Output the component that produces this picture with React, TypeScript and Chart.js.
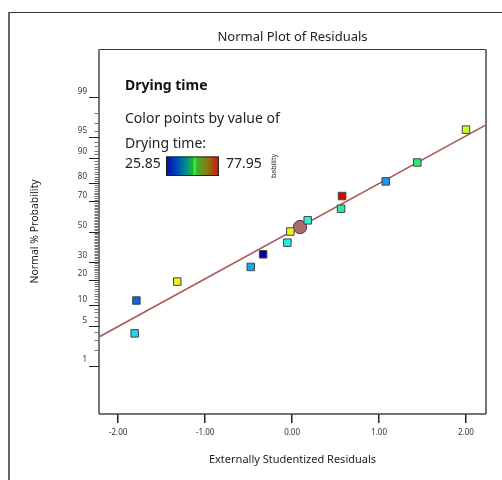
import React, { useEffect, useRef } from "react";
import { Chart, registerables } from "chart.js";

Chart.register(...registerables);

// ---- data ----
const residuals = [-1.81, -1.79, -1.32, -0.475, -0.333, -0.054, -0.02, 0.18, 0.563, 0.575, 1.077, 1.44, 2.0];
const normalProbability = [3.85, 11.54, 19.23, 26.92, 34.62, 42.31, 50.0, 57.69, 65.38, 73.08, 80.77, 88.46, 96.15];
const pointColors = [
  "#22d4ee", "#0a66d8", "#eeee22", "#14a8f0", "#0000a8", "#22f0dc", "#f0f020",
  "#2af4d8", "#2aee9a", "#dd0000", "#1e96ee", "#30e870", "#c4fa2a",
];
const markedResidual = [0.092];
const markedProbability = [53.1];
const fitResidual = [-2.22, 2.23];
const fitProbability = [3.35, 96.78];
const xTickValues = [-2, -1, 0, 1, 2];
const yLabeledPercents = [1, 5, 10, 20, 30, 50, 70, 80, 90, 95, 99];
const yMinorPercents = Array.from({ length: 99 }, (_, i) => i + 1);
const colorRangeLabels = ["25.85", "77.95"];

const FONT = "'Noto Sans', 'Open Sans', sans-serif";

// inverse standard normal CDF (probability axis transform)
function probit(p: number): number {
  const a = [-3.969683028665376e1, 2.209460984245205e2, -2.759285104469687e2, 1.38357751867269e2, -3.066479806614716e1, 2.506628277459239];
  const b = [-5.447609879822406e1, 1.615858368580409e2, -1.556989798598866e2, 6.680131188771972e1, -1.328068155288572e1];
  const c = [-7.784894002430293e-3, -3.223964580411365e-1, -2.400758277161838, -2.549732539343734, 4.374664141464968, 2.938163982698783];
  const d = [7.784695709041462e-3, 3.224671290700398e-1, 2.445134137142996, 3.754408661907416];
  const pl = 0.02425;
  const ph = 1 - pl;
  let q: number, r: number;
  if (p < pl) {
    q = Math.sqrt(-2 * Math.log(p));
    return (((((c[0] * q + c[1]) * q + c[2]) * q + c[3]) * q + c[4]) * q + c[5]) / ((((d[0] * q + d[1]) * q + d[2]) * q + d[3]) * q + 1);
  }
  if (p <= ph) {
    q = p - 0.5;
    r = q * q;
    return ((((((a[0] * r + a[1]) * r + a[2]) * r + a[3]) * r + a[4]) * r + a[5]) * q) / (((((b[0] * r + b[1]) * r + b[2]) * r + b[3]) * r + b[4]) * r + 1);
  }
  q = Math.sqrt(-2 * Math.log(1 - p));
  return -(((((c[0] * q + c[1]) * q + c[2]) * q + c[3]) * q + c[4]) * q + c[5]) / ((((d[0] * q + d[1]) * q + d[2]) * q + d[3]) * q + 1);
}

const Z_LIMIT = 3.168;

const decorPlugin = {
  id: "decor",
  beforeDraw(chart: any) {
    const ctx = chart.ctx;
    ctx.save();
    // outer frame
    ctx.strokeStyle = "#333";
    ctx.lineWidth = 1;
    ctx.beginPath();
    ctx.moveTo(8, 12.5);
    ctx.lineTo(502, 12.5);
    ctx.stroke();
    ctx.strokeStyle = "#666";
    ctx.lineWidth = 2;
    ctx.beginPath();
    ctx.moveTo(9, 12);
    ctx.lineTo(9, 480);
    ctx.stroke();
    ctx.restore();
  },
  afterDraw(chart: any) {
    const ctx = chart.ctx;
    const { left, right, top, bottom } = chart.chartArea;
    const yScale = chart.scales.y;
    ctx.save();
    // plot frame
    ctx.strokeStyle = "#333";
    ctx.lineWidth = 1;
    ctx.beginPath();
    ctx.moveTo(left, top + 0.5);
    ctx.lineTo(right, top + 0.5);
    ctx.stroke();
    ctx.strokeStyle = "#777";
    ctx.lineWidth = 2;
    ctx.beginPath();
    ctx.moveTo(right, top);
    ctx.lineTo(right, bottom);
    ctx.stroke();
    ctx.beginPath();
    ctx.moveTo(left, top);
    ctx.lineTo(left, bottom);
    ctx.stroke();
    ctx.strokeStyle = "#444";
    ctx.lineWidth = 1.5;
    ctx.beginPath();
    ctx.moveTo(left, bottom);
    ctx.lineTo(right, bottom);
    ctx.stroke();

    // y tick marks: long at labelled percents, short elsewhere
    yScale.ticks.forEach((t: any, i: number) => {
      const p = yMinorPercents[i];
      const major = yLabeledPercents.includes(p);
      const py = Math.round(yScale.getPixelForValue(t.value)) + 0.5;
      ctx.strokeStyle = major ? "#222" : "#777";
      ctx.lineWidth = 1;
      ctx.beginPath();
      ctx.moveTo(left - (major ? 10 : 4.5), py);
      ctx.lineTo(left, py);
      ctx.stroke();
    });

    // colour legend
    ctx.fillStyle = "#111";
    ctx.textBaseline = "alphabetic";
    ctx.textAlign = "left";
    ctx.font = `bold 14px ${FONT}`;
    ctx.fillText("Drying time", 125, 90);
    ctx.font = `14px ${FONT}`;
    ctx.fillStyle = "#222";
    ctx.fillText("Color points by value of", 125, 123);
    ctx.fillText("Drying time:", 125, 148);
    ctx.fillText(colorRangeLabels[0], 125, 168);
    ctx.fillText(colorRangeLabels[1], 226, 168);
    const gx = 166, gy = 156.5, gw = 53, gh = 19.5;
    const grad = ctx.createLinearGradient(gx, 0, gx + gw, 0);
    grad.addColorStop(0, "#0a0a9a");
    grad.addColorStop(0.18, "#0040c0");
    grad.addColorStop(0.36, "#008890");
    grad.addColorStop(0.5, "#20b040");
    grad.addColorStop(0.54, "#30ff30");
    grad.addColorStop(0.58, "#40b030");
    grad.addColorStop(0.78, "#8a7a10");
    grad.addColorStop(1, "#d01010");
    ctx.fillStyle = grad;
    ctx.fillRect(gx, gy, gw, gh);
    ctx.strokeStyle = "#222";
    ctx.lineWidth = 1;
    ctx.strokeRect(gx + 0.5, gy + 0.5, gw - 1, gh - 1);

    // clipped fragment of an axis label
    ctx.save();
    ctx.translate(276, 166);
    ctx.rotate(-Math.PI / 2);
    ctx.font = `7px ${FONT}`;
    ctx.fillStyle = "#333";
    ctx.textAlign = "center";
    ctx.fillText("bability", 0, 0);
    ctx.restore();

    ctx.restore();
  },
};

export default function App() {
  const canvasRef = useRef<HTMLCanvasElement | null>(null);

  useEffect(() => {
    const canvas = canvasRef.current;
    if (!canvas) return;
    const chart = new Chart(canvas, {
      type: "scatter",
      data: {
        datasets: [
          {
            label: "Residuals",
            data: residuals.map((r, i) => ({ x: r, y: probit(normalProbability[i] / 100) })),
            pointStyle: "rect",
            pointRadius: 5.3,
            backgroundColor: pointColors,
            borderColor: "#444",
            borderWidth: 1,
          },
          {
            label: "Selected",
            data: markedResidual.map((r, i) => ({ x: r, y: probit(markedProbability[i] / 100) })),
            pointStyle: "circle",
            pointRadius: 6.7,
            backgroundColor: "#a86c6c",
            borderColor: "#5a3a3a",
            borderWidth: 1,
          },
          {
            label: "Fit",
            data: fitResidual.map((r, i) => ({ x: r, y: probit(fitProbability[i] / 100) })),
            showLine: true,
            pointRadius: 0,
            borderColor: "#b05858",
            borderWidth: 1.6,
          },
        ],
      } as any,
      options: {
        animation: false,
        responsive: false,
        devicePixelRatio: 1,
        events: [],
        layout: { padding: { left: 0, right: 16, top: 0, bottom: 0 } },
        plugins: {
          legend: { display: false },
          tooltip: { enabled: false },
          title: {
            display: true,
            text: "Normal Plot of Residuals",
            fullSize: false,
            color: "#222",
            font: { size: 13, family: FONT, weight: "normal" },
            padding: { top: 29.2, bottom: 4.2 },
          },
        },
        scales: {
          x: {
            type: "linear",
            min: -2.22,
            max: 2.23,
            afterBuildTicks: (s: any) => {
              s.ticks = xTickValues.map((v) => ({ value: v }));
            },
            afterFit: (s: any) => {
              s.height = 66;
            },
            border: { display: false },
            grid: { drawOnChartArea: false, drawTicks: true, tickLength: 9, color: "#222", lineWidth: 1.5 },
            ticks: {
              autoSkip: false,
              maxRotation: 0,
              padding: 5,
              color: "#333",
              font: { size: 8, family: FONT },
              callback: (v: any) => Number(v).toFixed(2),
            },
            title: {
              display: true,
              text: "Externally Studentized Residuals",
              color: "#222",
              font: { size: 11, family: FONT },
              padding: { top: 0, bottom: 13.4 },
            },
          },
          y: {
            type: "linear",
            min: -Z_LIMIT,
            max: Z_LIMIT,
            afterBuildTicks: (s: any) => {
              s.ticks = yMinorPercents.map((p) => ({ value: probit(p / 100) }));
            },
            afterFit: (s: any) => {
              s.width = 99;
            },
            border: { display: false },
            grid: { drawOnChartArea: false, drawTicks: true, tickLength: 9, color: "rgba(0,0,0,0)" },
            ticks: {
              autoSkip: false,
              padding: 3,
              labelOffset: -6,
              color: "#333",
              font: { size: 8, family: FONT },
              callback: (_v: any, i: number) =>
                yLabeledPercents.includes(yMinorPercents[i]) ? String(yMinorPercents[i]) : "",
            },
            title: {
              display: true,
              text: "Normal % Probability",
              color: "#222",
              font: { size: 10.5, family: FONT },
              padding: { top: 28.7, bottom: 0 },
            },
          },
        },
      } as any,
      plugins: [decorPlugin],
    });
    return () => chart.destroy();
  }, []);

  return (
    <div style={{ position: "fixed", left: 0, top: 0, width: 502, height: 480, background: "#fff" }}>
      <canvas ref={canvasRef} width={502} height={480} style={{ display: "block", width: 502, height: 480 }} />
    </div>
  );
}
